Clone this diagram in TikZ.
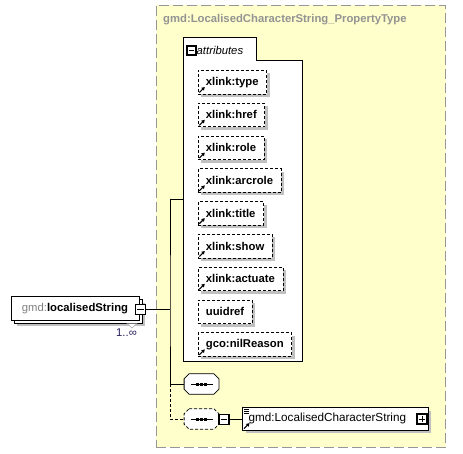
\documentclass[tikz,border=0pt]{standalone}
\usepackage{fontspec}
\setmainfont{Liberation Sans}
\usetikzlibrary{positioning,shadows,fit,arrows.meta}
\definecolor{TypeYellow}{RGB}{255,255,204}
\definecolor{TypeBorder}{RGB}{150,150,150}
\definecolor{ShadowGray}{RGB}{192,192,192}
\definecolor{PrefixGray}{RGB}{128,128,128}
\definecolor{OccurText}{RGB}{40,30,90}
\newcommand{\xsdfont}{\fontsize{11.3}{13}\selectfont}
\newcommand{\octagon}[1]{% chamfered outline round a sequence node
  ([xshift=5pt]#1.north west) -- ([xshift=-5pt]#1.north east)
  -- ([yshift=-5pt]#1.north east) -- ([yshift=5pt]#1.south east)
  -- ([xshift=-5pt]#1.south east) -- ([xshift=5pt]#1.south west)
  -- ([yshift=5pt]#1.south west) -- ([yshift=-5pt]#1.north west) -- cycle}
\tikzset{
  typebox/.style={draw=TypeBorder,fill=TypeYellow,line width=0.9pt,
    dash pattern=on 10pt off 4pt,inner sep=0pt},
  typetitle/.style={font=\xsdfont\bfseries,text=PrefixGray!85,
    inner sep=0pt,anchor=west},
  hardshadow/.style={drop shadow={shadow xshift=3pt,shadow yshift=-3pt,
    fill=ShadowGray,opacity=1}},
  attrbox/.style={draw,fill=white,dash pattern=on 3pt off 2pt,
    line width=0.8pt,hardshadow,minimum height=23.5pt,inner xsep=8pt,
    inner ysep=0pt,font=\xsdfont\bfseries},
  elembox/.style={draw,fill=white,line width=0.8pt,hardshadow,
    minimum height=23pt,inner xsep=6pt,inner ysep=0pt,font=\xsdfont},
  seqbox/.style={minimum width=34.4pt,minimum height=20pt,inner sep=0pt},
  seqline/.style={draw,fill=white,line width=0.8pt},
  toggle/.style={draw,fill=white,line width=1.1pt,minimum size=10pt,
    inner sep=0pt},
  minus/.style={toggle,path picture={
    \draw[line width=0.9pt] ([xshift=2pt]path picture bounding box.west)
      -- ([xshift=-2pt]path picture bounding box.east);}},
  plus/.style={toggle,path picture={
    \draw[line width=0.9pt] ([xshift=2pt]path picture bounding box.west)
      -- ([xshift=-2pt]path picture bounding box.east);
    \draw[line width=0.9pt] ([yshift=2pt]path picture bounding box.south)
      -- ([yshift=-2pt]path picture bounding box.north);}},
  wire/.style={line width=0.8pt},
  optwire/.style={wire,dash pattern=on 3pt off 2pt},
  refmark/.style={line width=1.1pt,-{Triangle[length=3.2pt,width=3.6pt]}},
}

\begin{document}
\begin{tikzpicture}[x=1pt,y=-1pt]
  \useasboundingbox[fill=white] (0,0) rectangle (463,453);
  % complex type
  \node[typebox,minimum width=289.7pt,minimum height=442pt] (ptype) at (300.85,226) {};
  \node[typetitle] (ptitle) at (163,20) {gmd:LocalisedCharacterString\_PropertyType};
  % attribute group
  \node[fit={(184,38) (302,361)},inner sep=0pt] (attrs) {};
  \draw[line width=0.9pt,fill=white] (attrs.north west) -- ++(73,0)
    |- ([yshift=-23pt]attrs.north east) -- (attrs.south east)
    -- (attrs.south west) -- cycle;
  \node[minus,minimum size=9pt,line width=1.3pt] (attrtoggle) at (191.5,50.5) {};
  \node[font=\xsdfont\itshape,anchor=west,inner sep=0pt] (attrlabel) at (196.5,50.5) {attributes};
  \node[attrbox,anchor=north west] (xtype) at (197.5,70) {xlink:type};
  \node[attrbox,below right=8.5pt and 0pt of xtype.south west] (xhref) {xlink:href};
  \node[attrbox,below right=8.5pt and 0pt of xhref.south west] (xrole) {xlink:role};
  \node[attrbox,below right=8.5pt and 0pt of xrole.south west] (xarcrole) {xlink:arcrole};
  \node[attrbox,below right=8.5pt and 0pt of xarcrole.south west] (xtitle) {xlink:title};
  \node[attrbox,below right=8.5pt and 0pt of xtitle.south west] (xshow) {xlink:show};
  \node[attrbox,below right=8.5pt and 0pt of xshow.south west] (xactuate) {xlink:actuate};
  \node[attrbox,below right=8.5pt and 0pt of xactuate.south west] (uuidref) {uuidref};
  \node[attrbox,below right=8.5pt and 0pt of uuidref.south west] (nilreason) {gco:nilReason};
  % element
  \node[elembox,minimum width=128pt,minimum height=23.3pt] (lsback) at (78,311.35) {};
  \node[draw,fill=white,line width=0.8pt,minimum width=128pt,minimum height=23.3pt,
    inner sep=0pt,font=\xsdfont] (ls) at (75,308.35)
    {\textcolor{PrefixGray}{gmd:}\textbf{localisedString}};
  \draw[fill=white,draw=TypeBorder] (127,323.5) -- (137,323.5) -- (132,328) -- cycle;
  \node[minus,minimum size=10.5pt] (lsminus) at (140.3,309.5) {};
  \node[font=\xsdfont,text=OccurText,inner sep=0pt] (lsocc) at (126.5,333) {1..\char"221E};
  % sequences
  \node[seqbox] (seq1) at (201.5,384) {};
  \node[seqbox] (seq2) at (201.5,419) {};
  \fill[ShadowGray,shift={(3pt,-3pt)}] \octagon{seq1};
  \fill[ShadowGray,shift={(3pt,-3pt)}] \octagon{seq2};
  \draw[seqline] \octagon{seq1};
  \draw[seqline,dash pattern=on 3pt off 2pt] \octagon{seq2};
  \foreach \s in {seq1,seq2} {
    \draw[line width=0.8pt] ([xshift=-11pt]\s.center) -- ([xshift=11pt]\s.center);
    \foreach \d in {-4,0,4}
      \fill ([xshift=\d pt]\s.center) +(-1.5pt,-1.5pt) rectangle +(1.5pt,1.5pt);
  }
  \node[minus] (seqminus) at (224,419.5) {};
  \node[elembox,text width=173.4pt,align=left,anchor=west,minimum height=22.3pt,
    font=\fontsize{11.7}{13}\selectfont] (lcs) at (242.3,418.85) {gmd:LocalisedCharacterString};
  \node[plus] (lcsplus) at (422,419) {};
  \foreach \d in {2,4,6}
    \draw[line width=0.7pt] ([shift={(2pt,-\d pt)}]lcs.north west) -- ++(5pt,0pt);
  % reference marks
  \foreach \n in {xtype,xhref,xrole,xarcrole,xtitle,xshow,xactuate,nilreason,lcs}
    \draw[refmark] ([shift={(1.8pt,1.8pt)}]\n.south west) -- ++(5.5pt,5.5pt);
  % connectors
  \coordinate (fork) at (170,309.5);
  \coordinate (forkend) at (fork |- seq1.west);
  \draw[wire] (lsminus) -- (fork);
  \draw[wire] (attrs.west) -| (fork) |- (seq1.west);
  \draw[optwire] (forkend) |- (seq2.west);
  \draw[wire] (seqminus) -- (lcs);
\end{tikzpicture}
\end{document}
